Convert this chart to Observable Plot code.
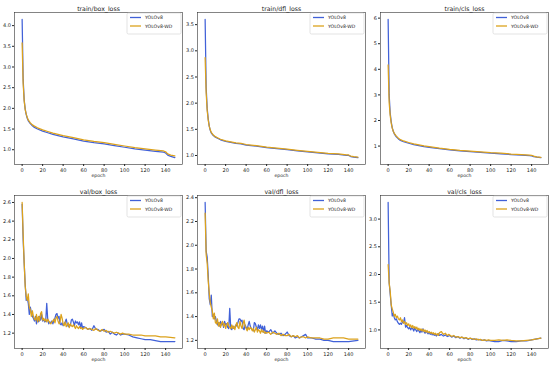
<!DOCTYPE html>
<html><head><meta charset="utf-8">
<script src="https://cdn.jsdelivr.net/npm/d3@7"></script>
<script src="https://cdn.jsdelivr.net/npm/@observablehq/plot@0.6"></script>
<style>
body{margin:0;background:#fff;}
#wrap{position:relative;width:550px;height:366px;font-family:"DejaVu Sans",sans-serif;}
#wrap svg{position:absolute;}
</style></head><body><div id="wrap"></div>
<script>
// ---- data ----
const seriesNames = ["YOLOv8", "YOLOv8-WD"];
const xTicks = [0, 20, 40, 60, 80, 100, 120, 140];

const trainEpochs = [0,1,2,3,4,5,6,8,10,12,15,20,25,30,35,40,50,60,70,80,90,100,110,120,130,138,140,142,145,149];
const trainBoxV8 = [4.15,2.70,2.20,1.98,1.85,1.76,1.70,1.63,1.58,1.54,1.50,1.45,1.41,1.37,1.34,1.31,1.26,1.21,1.17,1.14,1.10,1.06,1.02,0.99,0.96,0.94,0.92,0.87,0.84,0.81];
const trainBoxWD = [3.58,2.60,2.18,1.97,1.86,1.78,1.72,1.65,1.60,1.57,1.53,1.48,1.44,1.40,1.37,1.34,1.29,1.24,1.20,1.17,1.13,1.09,1.05,1.02,0.99,0.97,0.95,0.90,0.87,0.85];
const trainDflV8 = [3.60,2.30,1.90,1.70,1.56,1.48,1.43,1.38,1.35,1.33,1.30,1.27,1.25,1.23,1.22,1.20,1.18,1.15,1.13,1.11,1.09,1.07,1.05,1.03,1.02,1.00,1.00,0.98,0.97,0.96];
const trainDflWD = [2.87,2.20,1.86,1.68,1.56,1.49,1.44,1.39,1.36,1.34,1.31,1.28,1.26,1.24,1.23,1.21,1.19,1.16,1.14,1.12,1.10,1.08,1.06,1.04,1.03,1.01,1.01,0.99,0.98,0.97];
const trainClsV8 = [5.95,3.00,2.30,1.95,1.72,1.58,1.48,1.36,1.28,1.22,1.17,1.11,1.06,1.02,0.98,0.95,0.90,0.85,0.81,0.78,0.75,0.72,0.70,0.67,0.65,0.63,0.62,0.59,0.57,0.55];
const trainClsWD = [4.17,2.70,2.20,1.90,1.70,1.58,1.50,1.39,1.31,1.25,1.20,1.14,1.09,1.05,1.01,0.98,0.92,0.87,0.83,0.80,0.77,0.74,0.72,0.69,0.67,0.65,0.64,0.61,0.58,0.56];

const valEpochs = [0,1,2,3,4,5,6,7,8,9,10,11,12,13,14,15,16,17,18,19,20,21,22,23,24,25,26,27,28,29,30,31,32,33,34,35,36,37,38,39,40,41,42,43,44,45,46,47,48,49,50,51,52,53,54,55,56,57,58,59,60,
  62,64,66,68,70,72,74,76,78,80,82,84,86,88,90,92,94,96,98,100,
  104,108,112,116,120,125,130,135,140,149];
const valBoxV8 = [2.58,2.20,1.95,1.72,1.55,1.58,1.52,1.40,1.48,1.42, 1.38,1.36,1.33,1.38,1.30,1.36,1.32,1.38,1.34,1.40, 1.33,1.35,1.32,1.33,1.52,1.34,1.30,1.32,1.31,1.33, 1.30,1.34,1.36,1.40,1.41,1.36,1.38,1.30,1.29,1.31, 1.28,1.30,1.32,1.35,1.30,1.27,1.29,1.28,1.34,1.35, 1.32,1.28,1.33,1.31,1.32,1.29,1.32,1.26,1.31,1.25, 1.27,
  1.26,1.24,1.25,1.23,1.28,1.24,1.24,1.22,1.23,1.24, 1.21,1.22,1.19,1.21,1.19,1.18,1.20,1.18,1.19,1.19,
  1.18,1.16,1.15,1.14,1.13,1.13,1.12,1.11,1.11,1.11];
const valBoxWD = [2.60,2.25,1.95,1.70,1.60,1.55,1.62,1.48,1.45,1.38, 1.44,1.38,1.35,1.34,1.40,1.32,1.38,1.33,1.41,1.43, 1.34,1.36,1.33,1.35,1.32,1.35,1.33,1.31,1.30,1.32, 1.33,1.35,1.31,1.36,1.38,1.33,1.30,1.32,1.40,1.36, 1.30,1.28,1.32,1.27,1.29,1.31,1.26,1.30,1.28,1.27, 1.29,1.27,1.25,1.28,1.26,1.25,1.27,1.25,1.26,1.24, 1.25,
  1.26,1.24,1.25,1.24,1.23,1.25,1.23,1.22,1.24,1.22, 1.23,1.21,1.22,1.21,1.20,1.21,1.20,1.19,1.20,1.19,
  1.19,1.18,1.18,1.18,1.17,1.17,1.17,1.16,1.16,1.15];
const valDflV8 = [2.36,1.95,1.90,1.75,1.55,1.50,1.58,1.40,1.42,1.38, 1.40,1.36,1.33,1.35,1.32,1.36,1.33,1.35,1.31,1.36, 1.33,1.34,1.31,1.30,1.47,1.30,1.29,1.32,1.30,1.31, 1.33,1.32,1.35,1.38,1.38,1.36,1.37,1.30,1.29,1.33, 1.31,1.29,1.33,1.36,1.32,1.30,1.29,1.28,1.35,1.34, 1.31,1.29,1.33,1.30,1.33,1.29,1.32,1.27,1.32,1.26, 1.28,
  1.27,1.29,1.26,1.28,1.26,1.25,1.26,1.24,1.25,1.27, 1.24,1.23,1.24,1.22,1.23,1.22,1.23,1.24,1.25,1.22,
  1.22,1.21,1.21,1.20,1.20,1.19,1.19,1.19,1.19,1.20];
const valDflWD = [2.27,1.92,1.85,1.70,1.60,1.52,1.48,1.45,1.38,1.43, 1.35,1.34,1.38,1.32,1.35,1.31,1.34,1.36,1.32,1.34, 1.30,1.33,1.35,1.32,1.31,1.30,1.33,1.30,1.32,1.29, 1.33,1.35,1.31,1.30,1.36,1.32,1.30,1.34,1.37,1.32, 1.30,1.28,1.31,1.29,1.31,1.30,1.28,1.30,1.27,1.29, 1.31,1.27,1.29,1.28,1.26,1.29,1.27,1.28,1.26,1.27, 1.26,
  1.27,1.25,1.27,1.26,1.25,1.26,1.24,1.25,1.24,1.24, 1.25,1.23,1.24,1.23,1.24,1.22,1.23,1.23,1.22,1.23,
  1.22,1.22,1.22,1.21,1.21,1.22,1.22,1.22,1.21,1.21];
const valClsV8 = [3.30,1.85,1.65,1.45,1.25,1.30,1.22,1.18,1.20,1.15, 1.12,1.10,1.12,1.10,1.15,1.13,1.22,1.05,1.08,1.04, 1.02,1.05,1.00,1.04,1.02,0.98,1.04,1.00,0.97,1.02, 0.98,0.95,1.00,0.96,1.02,0.97,0.94,0.98,0.95,0.93, 0.96,0.92,0.95,0.91,0.93,0.90,0.92,0.89,0.91,0.93, 0.90,0.91,0.92,0.90,0.89,0.90,0.91,0.89,0.88,0.89, 0.90,
  0.87,0.89,0.86,0.88,0.85,0.87,0.84,0.86,0.83,0.85, 0.83,0.84,0.82,0.83,0.82,0.81,0.82,0.80,0.81,0.80,
  0.79,0.79,0.81,0.80,0.79,0.79,0.80,0.80,0.82,0.85];
const valClsWD = [2.18,1.85,1.70,1.45,1.38,1.32,1.25,1.28,1.22,1.25, 1.20,1.18,1.22,1.15,1.18,1.12,1.15,1.10,1.13,1.08, 1.11,1.06,1.09,1.04,1.08,1.03,1.06,1.02,1.05,1.00, 1.03,0.99,1.02,0.98,1.01,0.97,1.00,0.96,0.99,0.95, 0.97,0.94,0.96,0.93,0.95,0.92,0.94,0.91,0.93,0.90, 0.95,0.96,0.97,0.94,0.92,0.93,0.94,0.91,0.90,0.92, 0.91,
  0.88,0.90,0.87,0.88,0.86,0.87,0.85,0.86,0.84,0.85, 0.84,0.83,0.84,0.82,0.83,0.81,0.82,0.81,0.82,0.81,
  0.81,0.82,0.81,0.82,0.81,0.80,0.80,0.81,0.82,0.85];

const titles = ["train/box_loss","train/dfl_loss","train/cls_loss","val/box_loss","val/dfl_loss","val/cls_loss"];
const yTicks = [
  [1.0,1.5,2.0,2.5,3.0,3.5,4.0],
  [1.0,1.5,2.0,2.5,3.0,3.5],
  [1,2,3,4,5,6],
  [1.2,1.4,1.6,1.8,2.0,2.2,2.4,2.6],
  [1.2,1.4,1.6,1.8,2.0,2.2,2.4],
  [1.0,1.5,2.0,2.5,3.0]
];
const yFormats = [".1f",".1f","d",".1f",".1f",".1f"];

// ---- drawing ----
const BLUE = "#4161d8", ORANGE = "#dca21c";
const panels = [
  {ep: trainEpochs, a: trainBoxV8, b: trainBoxWD},
  {ep: trainEpochs, a: trainDflV8, b: trainDflWD},
  {ep: trainEpochs, a: trainClsV8, b: trainClsWD},
  {ep: valEpochs, a: valBoxV8, b: valBoxWD},
  {ep: valEpochs, a: valDflV8, b: valDflWD},
  {ep: valEpochs, a: valClsV8, b: valClsWD}
];
const wrap = document.getElementById("wrap");
const W = 183, H = 183, ML = 14, MR = 1, MT = 12;

panels.forEach((p, k) => {
  const col = k % 3, row = Math.floor(k / 3);
  const MB = row === 0 ? 19 : 18;
  const data = [];
  p.ep.forEach((e, i) => {
    data.push({epoch: e, loss: p.a[i], model: seriesNames[0]});
  });
  p.ep.forEach((e, i) => {
    data.push({epoch: e, loss: p.b[i], model: seriesNames[1]});
  });
  const all = p.a.concat(p.b);
  const lo = d3.min(all), hi = d3.max(all), pad = (hi - lo) * 0.05;
  const chart = Plot.plot({
    width: W, height: H,
    marginLeft: ML, marginRight: MR, marginTop: MT, marginBottom: MB,
    style: {fontFamily: "'DejaVu Sans', sans-serif", background: "transparent", color: "#222", overflow: "visible"},
    x: {domain: [-7.45, 156.45]},
    y: {domain: [lo - pad, hi + pad]},
    color: {domain: seriesNames, range: [BLUE, ORANGE]},
    marks: [
      Plot.line(data, {x: "epoch", y: "loss", stroke: "model", z: "model", strokeWidth: 1.25}),
      Plot.frame({stroke: "#333", strokeWidth: 0.6}),
      Plot.axisX({ticks: xTicks, tickFormat: "d", tickSize: 2, tickPadding: 1.5, fontSize: 5, label: null}),
      Plot.axisY({ticks: yTicks[k], tickFormat: yFormats[k], tickSize: 2, tickPadding: 1.5, fontSize: 5, label: null}),
      Plot.text([titles[k]], {text: d => d, frameAnchor: "top", dy: -6, fontSize: 6.2}),
      Plot.text(["epoch"], {text: d => d, frameAnchor: "bottom", dy: 12.7, fontSize: 4.6})
    ]
  });
  chart.style.left = (col * 183) + "px";
  chart.style.top = (row * 183) + "px";
  // legend box in the upper-right of the frame
  const fr = W - MR;
  const g = d3.select(chart).append("g")
    .attr("font-size", 4.6).attr("font-family", "'DejaVu Sans', sans-serif").attr("text-anchor", "start");
  g.append("rect").attr("x", fr - 55).attr("y", MT + 1).attr("width", 54).attr("height", 21)
    .attr("rx", 1.5).attr("fill", "white").attr("fill-opacity", 0.85).attr("stroke", "#d0d0d0").attr("stroke-width", 0.6);
  [BLUE, ORANGE].forEach((c, i) => {
    const yy = MT + 5.5 + i * 8.5;
    g.append("line").attr("x1", fr - 52).attr("x2", fr - 41).attr("y1", yy).attr("y2", yy)
      .attr("stroke", c).attr("stroke-width", 1.3);
    g.append("text").attr("x", fr - 37).attr("y", yy).attr("dy", "0.35em")
      .attr("text-anchor", "start").attr("fill", "#222").text(seriesNames[i]);
  });
  wrap.appendChild(chart);
});
</script>
</body></html>
